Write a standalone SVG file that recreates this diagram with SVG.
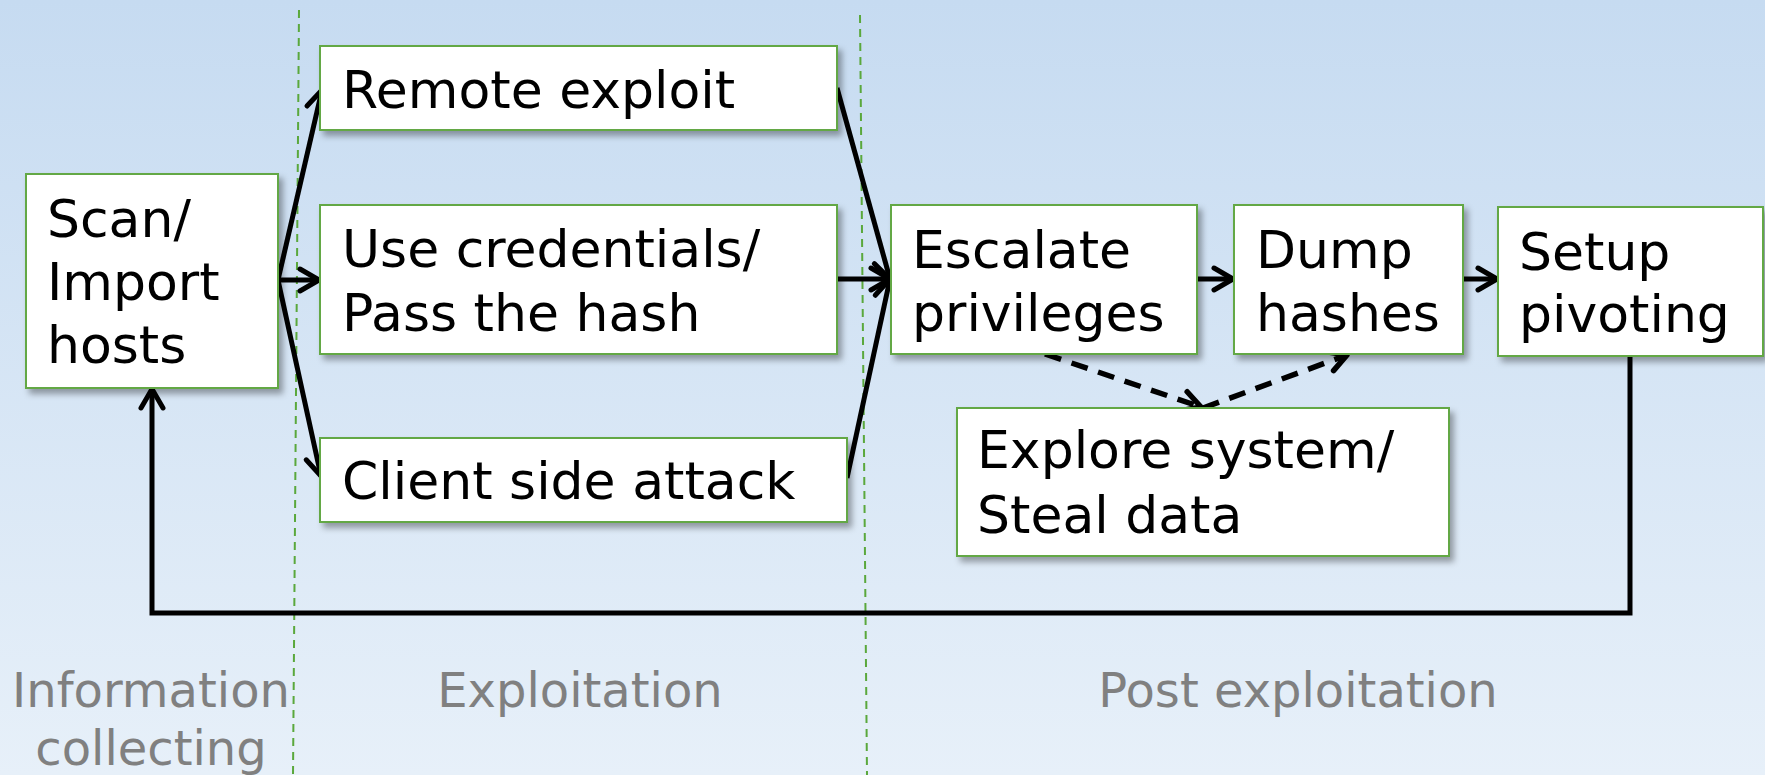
<svg xmlns="http://www.w3.org/2000/svg" width="1765" height="775" viewBox="0 0 1765 775">
<defs>
<linearGradient id="bg" x1="0" y1="0" x2="0" y2="1">
<stop offset="0" stop-color="#c6dbf1"/>
<stop offset="1" stop-color="#e7f0f9"/>
</linearGradient>
<filter id="sh" x="-10%" y="-10%" width="130%" height="130%">
<feDropShadow dx="4" dy="5" stdDeviation="3" flood-color="#000" flood-opacity="0.35"/>
</filter>
<marker id="ah" viewBox="0 0 30 30" markerUnits="userSpaceOnUse" markerWidth="30" markerHeight="30" refX="24" refY="15" orient="auto">
<path d="M5,4 L24,15 L5,26" fill="none" stroke="#000" stroke-width="5" stroke-linecap="round" stroke-linejoin="round"/>
</marker>
<marker id="ahd" viewBox="0 0 30 30" markerUnits="userSpaceOnUse" markerWidth="30" markerHeight="30" refX="24" refY="15" orient="auto">
<path d="M6,5 L24,15 L6,25" fill="none" stroke="#000" stroke-width="5.5" stroke-linecap="round" stroke-linejoin="round"/>
</marker>
</defs>
<style>
.box{fill:#fff;stroke:#63a845;stroke-width:2;filter:url(#sh)}
.t{font-family:"DejaVu Sans","Verdana",sans-serif;font-size:52px;fill:#000}
.ph{font-family:"DejaVu Sans","Verdana",sans-serif;font-size:48px;fill:#808080;text-anchor:middle}
.sep{stroke:#5aa83c;stroke-width:2;stroke-dasharray:8 6;fill:none}
.c{stroke:#000;stroke-width:5;fill:none;marker-end:url(#ah)}
.d{stroke:#000;stroke-width:5.5;fill:none;stroke-dasharray:17 11;marker-end:url(#ahd)}
</style>
<rect x="0" y="0" width="1765" height="775" fill="url(#bg)"/>
<g id="phases">
<line class="sep" x1="299" y1="10" x2="293" y2="775"/>
<line class="sep" x1="860" y1="15" x2="867" y2="775"/>
<text class="ph" x="151" y="707">Information</text>
<text class="ph" x="151" y="765">collecting</text>
<text class="ph" x="580" y="707">Exploitation</text>
<text class="ph" x="1298" y="707">Post exploitation</text>
</g>
<g id="connectors">
<line class="c" x1="278" y1="280" x2="322" y2="90"/>
<line class="c" x1="278" y1="280" x2="319" y2="280"/>
<line class="c" x1="278" y1="280" x2="321" y2="476"/>
<line class="c" x1="837" y1="88" x2="890" y2="279"/>
<line class="c" x1="837" y1="279" x2="890" y2="279"/>
<line class="c" x1="847" y1="478" x2="890" y2="279"/>
<line class="c" x1="1197" y1="279" x2="1233" y2="279"/>
<line class="c" x1="1463" y1="279" x2="1497" y2="279"/>
<line class="d" x1="1045" y1="354" x2="1201" y2="407"/>
<line class="d" x1="1203" y1="408" x2="1347" y2="355"/>
<polyline class="c" points="1630,356 1630,613 152,613 152,389"/>
</g>
<g id="scan">
<rect class="box" x="26" y="174" width="252" height="214"/>
<text class="t" x="47" y="237">Scan/</text>
<text class="t" x="47" y="300">Import</text>
<text class="t" x="47" y="363">hosts</text>
</g>
<g id="remote">
<rect class="box" x="320" y="46" width="517" height="84"/>
<text class="t" x="342" y="108">Remote exploit</text>
</g>
<g id="usecred">
<rect class="box" x="320" y="205" width="517" height="149"/>
<text class="t" x="342" y="267">Use credentials/</text>
<text class="t" x="342" y="331">Pass the hash</text>
</g>
<g id="client">
<rect class="box" x="320" y="438" width="527" height="84"/>
<text class="t" x="342" y="499">Client side attack</text>
</g>
<g id="escalate">
<rect class="box" x="891" y="205" width="306" height="149"/>
<text class="t" x="912" y="268">Escalate</text>
<text class="t" x="912" y="331">privileges</text>
</g>
<g id="dump">
<rect class="box" x="1234" y="205" width="229" height="149"/>
<text class="t" x="1256" y="268">Dump</text>
<text class="t" x="1256" y="331">hashes</text>
</g>
<g id="setup">
<rect class="box" x="1498" y="207" width="265" height="149"/>
<text class="t" x="1519" y="270">Setup</text>
<text class="t" x="1519" y="332">pivoting</text>
</g>
<g id="explore">
<rect class="box" x="957" y="408" width="492" height="148"/>
<text class="t" x="977" y="468">Explore system/</text>
<text class="t" x="977" y="533">Steal data</text>
</g>
</svg>
